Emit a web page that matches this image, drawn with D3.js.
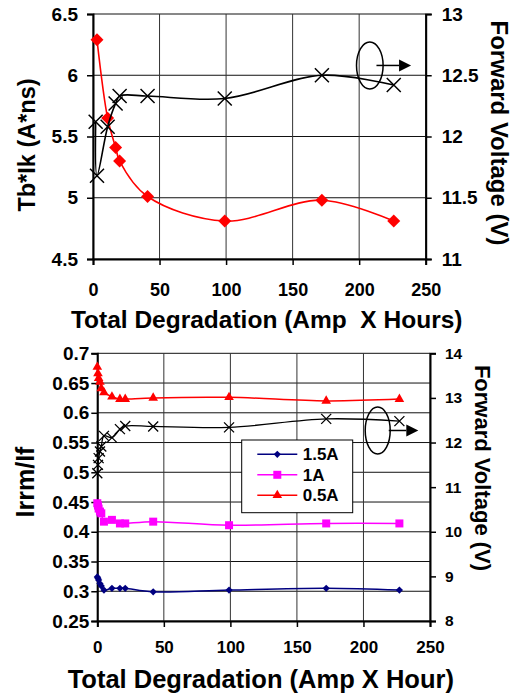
<!DOCTYPE html>
<html>
<head>
<meta charset="utf-8">
<script src="https://cdn.jsdelivr.net/npm/d3@7"></script>
<style>
body { margin: 0; background: #fff; }
text { font-family: "Liberation Sans", Arial, sans-serif; font-weight: bold; fill: #000; }
</style>
</head>
<body>
<script>
// ---- top chart data ----
var topX = [3, 11, 17, 20, 41, 99, 172, 226];
var tbIk = [6.29, 5.65, 5.41, 5.30, 5.01, 4.81, 4.98, 4.81];
var topVfX = [2, 3, 11, 17, 20, 41, 99, 172, 226];
var topVf = [12.12, 11.68, 12.08, 12.27, 12.33, 12.33, 12.31, 12.50, 12.42];

// ---- bottom chart data ----
var botX = [0, 0.5, 1, 2, 3, 5, 11, 17, 21, 42, 99, 172, 227];
var irrm15 = [0.324, 0.322, 0.319, 0.313, 0.309, 0.302, 0.305, 0.305, 0.305, 0.299, 0.302, 0.305, 0.302];
var irrm10 = [0.448, 0.444, 0.439, 0.434, 0.431, 0.417, 0.420, 0.414, 0.414, 0.417, 0.411, 0.414, 0.414];
var irrm05 = [0.677, 0.666, 0.658, 0.652, 0.641, 0.634, 0.627, 0.623, 0.623, 0.625, 0.626, 0.620, 0.623];
var botVf = [11.31, 11.50, 11.65, 11.80, 11.91, 12.15, 12.11, 12.30, 12.37, 12.36, 12.34, 12.53, 12.48];
var seriesNames = ["1.5A", "1A", "0.5A"];

// ---- ticks ----
var xTicks = [0, 50, 100, 150, 200, 250];
var topLeftTicks = [4.5, 5, 5.5, 6, 6.5];
var topRightTicks = [11, 11.5, 12, 12.5, 13];
var botLeftTicks = [0.25, 0.3, 0.35, 0.4, 0.45, 0.5, 0.55, 0.6, 0.65, 0.7];
var botRightTicks = [8, 9, 10, 11, 12, 13, 14];

var svg = d3.select("body").append("svg")
    .attr("width", 513)
    .attr("height", 695);

var fmt = d3.format("");

// X marker path
function crossPath(s) {
    return "M" + (-s) + "," + (-s) + "L" + s + "," + s + "M" + (-s) + "," + s + "L" + s + "," + (-s);
}

// draws frame, grid and axes for one panel, returns scales
function panel(box, xDom, yDom, y2Dom, yTicks, y2Ticks, opt) {
    var x = d3.scaleLinear().domain(xDom).range([box.left, box.right]);
    var y = d3.scaleLinear().domain(yDom).range([box.bottom, box.top]);
    var y2 = d3.scaleLinear().domain(y2Dom).range([box.bottom, box.top]);

    // gridlines
    svg.append("g").selectAll("line.h").data(yTicks).enter().append("line")
        .attr("x1", box.left).attr("x2", box.right)
        .attr("y1", d => y(d)).attr("y2", d => y(d))
        .attr("stroke", "#111").attr("stroke-width", 1);
    svg.append("g").selectAll("line.v").data(xTicks).enter().append("line")
        .attr("x1", d => x(d)).attr("x2", d => x(d))
        .attr("y1", box.top).attr("y2", box.bottom)
        .attr("stroke", "#333").attr("stroke-width", 1);

    var gl = svg.append("g")
        .attr("transform", "translate(" + box.left + ",0)")
        .call(d3.axisLeft(y).tickValues(yTicks).tickFormat(fmt).tickSize(6).tickPadding(opt.lPad));
    gl.selectAll("text").style("font-size", opt.lFont + "px");

    var gr = svg.append("g")
        .attr("transform", "translate(" + box.right + ",0)")
        .call(d3.axisRight(y2).tickValues(y2Ticks).tickFormat(fmt).tickSize(6).tickPadding(opt.rPad));
    gr.selectAll("text").style("font-size", opt.rFont + "px");

    var gb = svg.append("g")
        .attr("transform", "translate(0," + box.bottom + ")")
        .call(d3.axisBottom(x).tickValues(xTicks).tickFormat(fmt).tickSize(6).tickPadding(opt.bPad));
    gb.selectAll("text").style("font-size", opt.bFont + "px");

    [gl, gr, gb].forEach(g => {
        g.select(".domain").attr("stroke", "#000").attr("stroke-width", 2);
        g.selectAll(".tick line").attr("stroke", "#000").attr("stroke-width", 1.5);
        g.attr("font-family", null).attr("font-size", null);
    });
    return { x: x, y: y, y2: y2 };
}

var curve = d3.curveCatmullRom.alpha(0.5);

// ================= TOP CHART =================
var tb = { left: 93, right: 425.7, top: 14, bottom: 259 };
var t = panel(tb, [0, 250], [4.5, 6.5], [11, 13], topLeftTicks, topRightTicks,
    { lPad: 9, rPad: 10, bPad: 18, lFont: 19, rFont: 19, bFont: 18 });

var redPts = topX.map((d, i) => [d, tbIk[i]]);
svg.append("path").datum(redPts)
    .attr("d", d3.line().x(d => t.x(d[0])).y(d => t.y(d[1])).curve(curve))
    .attr("fill", "none").attr("stroke", "#ff0000").attr("stroke-width", 1.6);
svg.append("g").selectAll("path").data(redPts).enter().append("path")
    .attr("d", d3.symbol().type(d3.symbolSquare).size(84))
    .attr("transform", d => "translate(" + t.x(d[0]) + "," + t.y(d[1]) + ") rotate(45)")
    .attr("fill", "#ff0000");

var blkPts = topVfX.map((d, i) => [d, topVf[i]]);
svg.append("path").datum(blkPts)
    .attr("d", d3.line().x(d => t.x(d[0])).y(d => t.y2(d[1])).curve(curve))
    .attr("fill", "none").attr("stroke", "#000").attr("stroke-width", 1.6);
svg.append("g").selectAll("path").data(blkPts).enter().append("path")
    .attr("d", crossPath(7))
    .attr("transform", d => "translate(" + t.x(d[0]) + "," + t.y2(d[1]) + ")")
    .attr("stroke", "#000").attr("stroke-width", 1.5).attr("fill", "none");

// ================= BOTTOM CHART =================
var bb = { left: 97.3, right: 430, top: 353.3, bottom: 621 };
var b = panel(bb, [0, 250], [0.25, 0.7], [8, 14], botLeftTicks, botRightTicks,
    { lPad: 2, rPad: 9, bPad: 14, lFont: 19, rFont: 15.5, bFont: 17 });

var botSeries = [
    { name: seriesNames[0], vals: irrm15, color: "#000080", type: "diamond" },
    { name: seriesNames[1], vals: irrm10, color: "#ff00ff", type: "square" },
    { name: seriesNames[2], vals: irrm05, color: "#ff0000", type: "triangle" }
];

function marker(sel, type) {
    if (type == "diamond") {
        sel.attr("d", d3.symbol().type(d3.symbolSquare).size(26)).attr("data-rot", 45);
    } else if (type == "square") {
        sel.attr("d", d3.symbol().type(d3.symbolSquare).size(64)).attr("data-rot", 0);
    } else {
        sel.attr("d", d3.symbol().type(d3.symbolTriangle).size(40)).attr("data-rot", 0);
    }
}

botSeries.forEach(s => {
    var pts = botX.map((d, i) => [d, s.vals[i]]);
    svg.append("path").datum(pts)
        .attr("d", d3.line().x(d => b.x(d[0])).y(d => b.y(d[1])).curve(curve))
        .attr("fill", "none").attr("stroke", s.color).attr("stroke-width", 1.5);
    var m = svg.append("g").selectAll("path").data(pts).enter().append("path")
        .attr("fill", s.color);
    marker(m, s.type);
    m.attr("transform", function (d) {
        return "translate(" + b.x(d[0]) + "," + b.y(d[1]) + ") rotate(" + d3.select(this).attr("data-rot") + ")";
    });
});

var vfPts = botX.map((d, i) => [d, botVf[i]]);
svg.append("path").datum(vfPts)
    .attr("d", d3.line().x(d => b.x(d[0])).y(d => b.y2(d[1])).curve(curve))
    .attr("fill", "none").attr("stroke", "#000").attr("stroke-width", 1.3);
svg.append("g").selectAll("path").data(vfPts).enter().append("path")
    .attr("d", crossPath(5))
    .attr("transform", d => "translate(" + b.x(d[0]) + "," + b.y2(d[1]) + ")")
    .attr("stroke", "#000").attr("stroke-width", 1.3).attr("fill", "none");

// legend
var lg = svg.append("g").attr("transform", "translate(241.7,440)");
lg.append("rect").attr("width", 111).attr("height", 72.7)
    .attr("fill", "#fff").attr("stroke", "#000").attr("stroke-width", 1);
botSeries.forEach((s, i) => {
    var row = lg.append("g").attr("transform", "translate(0," + (14.3 + i * 20.5) + ")");
    row.append("line").attr("x1", 15.6).attr("x2", 55.6)
        .attr("stroke", s.color).attr("stroke-width", 1.5);
    var m = row.append("path").attr("fill", s.color);
    marker(m, s.type);
    m.attr("transform", "translate(35.6,0) rotate(" + m.attr("data-rot") + ")");
    row.append("text").attr("x", 61).attr("dy", "0.36em")
        .style("font-size", "17px").text(s.name);
});

// ellipse + arrow annotations (placed in data space of right axis)
function annot(sc, cx, cy, rx, ry, ax0, ax1, head) {
    svg.append("ellipse")
        .attr("cx", sc.x(cx)).attr("cy", sc.y2(cy))
        .attr("rx", rx).attr("ry", ry)
        .attr("fill", "none").attr("stroke", "#000").attr("stroke-width", 1.5);
    var yy = sc.y2(cy), xa = sc.x(ax0), xb = sc.x(ax1);
    svg.append("line").attr("x1", xa).attr("x2", xb - head)
        .attr("y1", yy).attr("y2", yy)
        .attr("stroke", "#000").attr("stroke-width", 1.5);
    svg.append("path")
        .attr("d", "M" + xb + "," + yy + "L" + (xb - head) + "," + (yy - head / 2) + "L" + (xb - head) + "," + (yy + head / 2) + "Z")
        .attr("fill", "#000");
}
annot(t, 208, 12.58, 13.3, 23.5, 213, 239, 12);
annot(b, 210.7, 12.27, 12.5, 23.5, 219, 241.2, 12);

// ---- axis titles ----
svg.append("text").attr("x", 266.7).attr("y", 328.3).attr("text-anchor", "middle")
    .style("font-size", "24.5px").style("white-space", "pre")
    .text("Total Degradation (Amp  X Hours)");
svg.append("text").attr("x", 260.8).attr("y", 688.3).attr("text-anchor", "middle")
    .style("font-size", "25.5px")
    .text("Total Degradation (Amp X Hour)");

svg.append("text").attr("transform", "translate(35,145) rotate(-90)")
    .attr("text-anchor", "middle").style("font-size", "23.5px")
    .text("Tb*Ik (A*ns)");
svg.append("text").attr("transform", "translate(34,482) rotate(-90)")
    .attr("text-anchor", "middle").style("font-size", "25px")
    .text("Irrm/If");

svg.append("text").attr("transform", "translate(491,133) rotate(90)")
    .attr("text-anchor", "middle").style("font-size", "24px")
    .text("Forward Voltage (V)");
svg.append("text").attr("transform", "translate(475,468) rotate(90)")
    .attr("text-anchor", "middle").style("font-size", "22px")
    .text("Forward Voltage (V)");
</script>
</body>
</html>
